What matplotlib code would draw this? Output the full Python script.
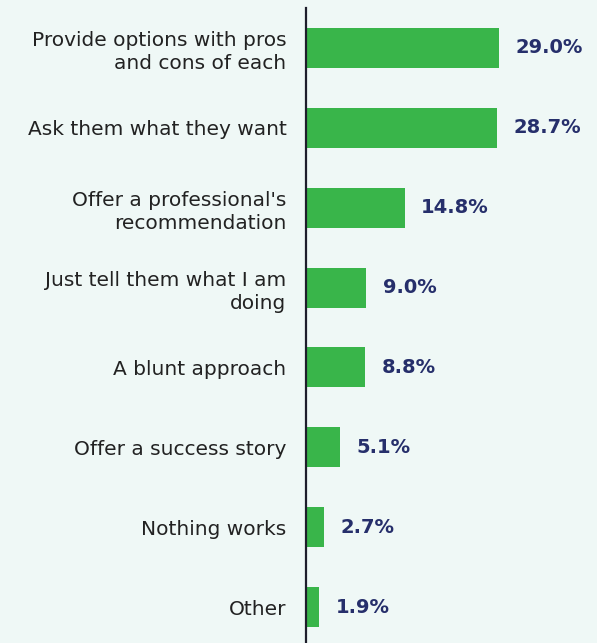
import numpy as np
import matplotlib.pyplot as plt

labels = [
    "Provide options with pros\nand cons of each",
    "Ask them what they want",
    "Offer a professional's\nrecommendation",
    "Just tell them what I am\ndoing",
    "A blunt approach",
    "Offer a success story",
    "Nothing works",
    "Other",
]
values = [29.0, 28.7, 14.8, 9.0, 8.8, 5.1, 2.7, 1.9]

bg = "#eff8f6"
green = "#39b54a"
navy = "#262f6b"

fig = plt.figure(figsize=(5.97, 6.43), dpi=100, facecolor=bg)
ax = fig.add_axes([306 / 597, 0, 1 - 306 / 597, 1 - 8 / 643])
ax.set_facecolor(bg)

y = np.arange(len(labels))
ax.barh(y, values, height=0.5, color=green)

for yi, v in zip(y, values):
    ax.annotate(f"{v:.1f}%", (v, yi), xytext=(12, 0), textcoords="offset points",
                va="center", ha="left", fontsize=14, fontweight="bold", color=navy)

ax.set_xlim(0, 43.7)
ax.set_ylim(7.45, -0.5)
ax.set_yticks(y)
ax.set_yticklabels(labels, fontsize=14.5, color="#222222", linespacing=1.3)
ax.tick_params(axis="y", length=0, pad=14)
ax.set_xticks([])
for s in ["top", "right", "bottom"]:
    ax.spines[s].set_visible(False)
ax.spines["left"].set_color("#1e1e2c")
ax.spines["left"].set_linewidth(1.6)

fig.savefig("out.png", dpi=100, facecolor=bg)
